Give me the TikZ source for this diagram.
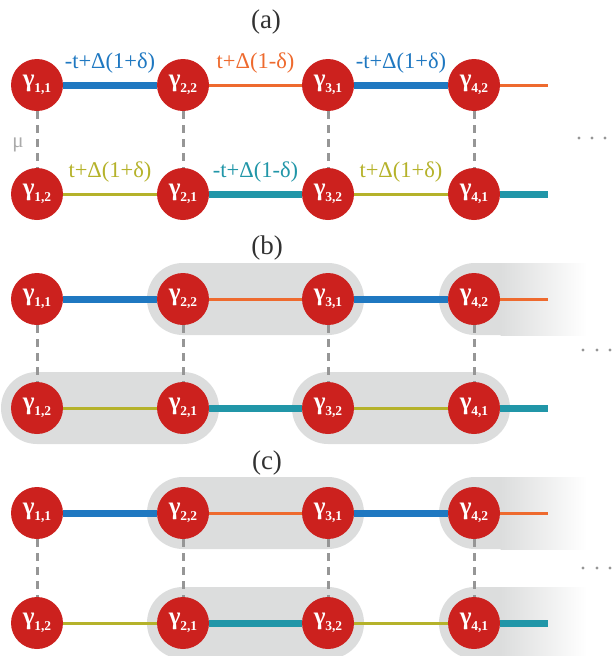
\documentclass[tikz,border=0pt]{standalone}
\usepackage{fontspec}
\setmainfont{Liberation Serif}
\definecolor{nodered}{RGB}{204,33,30}
\definecolor{bondblue}{RGB}{31,120,193}
\definecolor{bondorange}{RGB}{238,106,46}
\definecolor{bondolive}{RGB}{181,178,42}
\definecolor{bondteal}{RGB}{33,150,168}
\definecolor{hopgray}{RGB}{150,150,150}
\definecolor{pillgray}{RGB}{220,221,221}
\definecolor{mugray}{RGB}{170,170,170}
\definecolor{titlegray}{RGB}{50,50,50}
\newcommand\gam[1]{\textbf{γ}\kern-0.3pt\raisebox{-6pt}{\fontsize{13.5}{13.5}\selectfont\bfseries #1}}
\tikzset{
  site/.style={circle, fill=nodered, minimum size=52pt, inner sep=0pt, text=white,
    font=\fontsize{25}{25}\selectfont},
  thickbond/.style={line width=7pt},
  thinbond/.style={line width=3pt},
  hop/.style={draw=hopgray, line width=3pt, dash pattern=on 8pt off 6pt},
  lbl/.style={font=\fontsize{22.5}{22.5}\selectfont, inner sep=0pt, midway, yshift=22pt},
  paneltitle/.style={font=\fontsize{27}{27}\selectfont, text=titlegray, inner sep=0pt},
  dotmark/.style={fill=hopgray},
}
\newcommand\chain[3]{%
  \coordinate (#1te) at (548,#2);
  \coordinate (#1be) at (548,#3);
  \node[site] (#1t1) at (37,#2) {\gam{1,1}};
  \node[site] (#1t2) at (183,#2) {\gam{2,2}};
  \node[site] (#1t3) at (328,#2) {\gam{3,1}};
  \node[site] (#1t4) at (474,#2) {\gam{4,2}};
  \node[site] (#1b1) at (37,#3) {\gam{1,2}};
  \node[site] (#1b2) at (183,#3) {\gam{2,1}};
  \node[site] (#1b3) at (328,#3) {\gam{3,2}};
  \node[site] (#1b4) at (474,#3) {\gam{4,1}};
  \foreach \i in {1,2,3,4} {\draw[hop] (#1t\i) -- (#1b\i);}
}
\newcommand\pill[3]{% x1, x2, ycentre
  \fill[pillgray, rounded corners=35.9pt] (#1-36,#3-36) rectangle (#2+36,#3+36);
}
\newcommand\fadepill[2]{% xcentre, ycentre
  \begin{scope}
    \clip (#1-40,#2-40) rectangle (#1+26,#2+40);
    \fill[pillgray, rounded corners=35.9pt] (#1-36,#2-36) rectangle (#1+90,#2+36);
  \end{scope}
  \shade[left color=pillgray, right color=white] (#1+25.5,#2-36) rectangle (#1+112,#2+36);
}
\begin{document}
\begin{tikzpicture}[x=1pt,y=-1pt]
\useasboundingbox (0,0) rectangle (611,656);
% ---------- panel (a)
\node[paneltitle] (ta) at (266,22) {(a)};
\chain{a}{85}{194}
\draw[thickbond, bondblue] (at1) -- node[lbl, text=bondblue] {-t+Δ(1+δ)} (at2);
\draw[thinbond, bondorange] (at2) -- node[lbl, text=bondorange] {t+Δ(1-δ)} (at3);
\draw[thickbond, bondblue] (at3) -- node[lbl, text=bondblue] {-t+Δ(1+δ)} (at4);
\draw[thinbond, bondorange] (at4) -- (ate);
\draw[thinbond, bondolive] (ab1) -- node[lbl, text=bondolive] {t+Δ(1+δ)} (ab2);
\draw[thickbond, bondteal] (ab2) -- node[lbl, text=bondteal] {-t+Δ(1-δ)} (ab3);
\draw[thinbond, bondolive] (ab3) -- node[lbl, text=bondolive] {t+Δ(1+δ)} (ab4);
\draw[thickbond, bondteal] (ab4) -- (abe);
\node[text=mugray, font=\fontsize{21}{21}\selectfont, inner sep=0pt] (mu) at (18,145) {μ};
\fill[dotmark] (579,138) circle (1.6) (592,138) circle (1.6) (605,138) circle (1.6);
% ---------- panel (b)
\node[paneltitle] (tb) at (267,248) {(b)};
\pill{183}{328}{299}
\fadepill{475}{299}
\pill{37}{183}{408}
\pill{328}{474}{408}
\chain{b}{299}{408}
\draw[thickbond, bondblue] (bt1) -- (bt2);
\draw[thinbond, bondorange] (bt2) -- (bt3);
\draw[thickbond, bondblue] (bt3) -- (bt4);
\draw[thinbond, bondorange] (bt4) -- (bte);
\draw[thinbond, bondolive] (bb1) -- (bb2);
\draw[thickbond, bondteal] (bb2) -- (bb3);
\draw[thinbond, bondolive] (bb3) -- (bb4);
\draw[thickbond, bondteal] (bb4) -- (bbe);
\fill[dotmark] (583,350) circle (1.6) (597,350) circle (1.6) (610,350) circle (1.6);
% ---------- panel (c)
\node[paneltitle] (tc) at (267,463) {(c)};
\pill{183}{328}{513}
\fadepill{475}{513}
\pill{183}{328}{623}
\fadepill{475}{623}
\chain{c}{513}{623}
\draw[thickbond, bondblue] (ct1) -- (ct2);
\draw[thinbond, bondorange] (ct2) -- (ct3);
\draw[thickbond, bondblue] (ct3) -- (ct4);
\draw[thinbond, bondorange] (ct4) -- (cte);
\draw[thinbond, bondolive] (cb1) -- (cb2);
\draw[thickbond, bondteal] (cb2) -- (cb3);
\draw[thinbond, bondolive] (cb3) -- (cb4);
\draw[thickbond, bondteal] (cb4) -- (cbe);
\fill[dotmark] (583,568) circle (1.6) (597,568) circle (1.6) (610,568) circle (1.6);
\end{tikzpicture}
\end{document}
